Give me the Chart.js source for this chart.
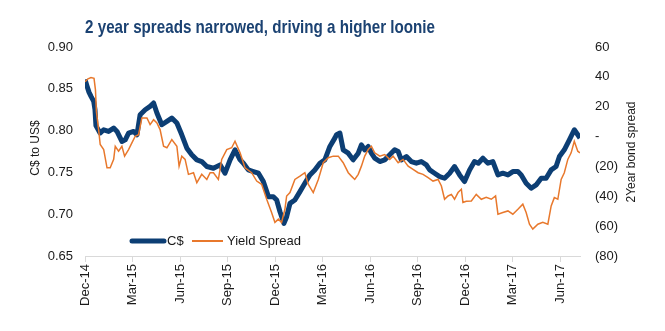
<!DOCTYPE html>
<html>
<head>
<meta charset="utf-8">
<script src="https://cdn.jsdelivr.net/npm/chart.js@4"></script>
<style>
  html, body { margin: 0; padding: 0; background: #fff; }
  #wrap { width: 665px; height: 331px; }
</style>
</head>
<body>
<div id="wrap"><canvas id="loonieChart" width="665" height="331"></canvas></div>
<script>
// x values are months counted from Dec-14 (0 = start of Dec 2014)
const chartTitle = '2 year spreads narrowed, driving a higher loonie';
const seriesNames = ['C$', 'Yield Spread'];
const leftAxisTitle = 'C$ to US$';
const rightAxisTitle = '2Year bond spread';

const tickMonths = [0, 3, 6, 9, 12, 15, 18, 21, 24, 27, 30];
const tickLabels = ['Dec-14', 'Mar-15', 'Jun-15', 'Sep-15', 'Dec-15', 'Mar-16',
                    'Jun-16', 'Sep-16', 'Dec-16', 'Mar-17', 'Jun-17'];

const cadMonths = [0, 0.13, 0.25, 0.38, 0.55, 0.63, 0.69, 0.95, 1.18, 1.49,
  1.81, 2.02, 2.33, 2.54, 2.75, 3.07, 3.28, 3.48, 3.80, 4.11,
  4.33, 4.54, 4.85, 5.17, 5.48, 5.80, 6.11, 6.43, 6.74, 7.06,
  7.37, 7.69, 8.11, 8.53, 8.84, 9.16, 9.47, 9.79, 10.00, 10.31,
  10.63, 10.95, 11.26, 11.58, 11.89, 12.10, 12.31, 12.56, 12.73, 12.94,
  13.25, 13.57, 13.88, 14.20, 14.51, 14.83, 15.14, 15.46, 15.77, 15.88,
  16.09, 16.30, 16.62, 16.93, 17.25, 17.45, 17.66, 17.88, 18.08, 18.29,
  18.61, 18.92, 19.24, 19.55, 19.77, 19.97, 20.29, 20.60, 20.92, 21.23,
  21.55, 21.76, 22.07, 22.39, 22.70, 23.02, 23.33, 23.65, 23.96, 24.28,
  24.59, 24.83, 25.12, 25.44, 25.75, 26.07, 26.38, 26.70, 27.01, 27.33,
  27.54, 27.85, 28.17, 28.48, 28.80, 29.11, 29.43, 29.74, 29.95, 30.26,
  30.58, 30.89, 31.11, 31.25];
const cadValues = [0.861, 0.853, 0.846, 0.841, 0.835, 0.825, 0.806, 0.797, 0.801, 0.799,
  0.803, 0.799, 0.787, 0.789, 0.797, 0.799, 0.795, 0.819, 0.825, 0.829,
  0.833, 0.821, 0.807, 0.811, 0.815, 0.809, 0.795, 0.779, 0.771, 0.765,
  0.763, 0.757, 0.755, 0.759, 0.749, 0.765, 0.777, 0.765, 0.761, 0.753,
  0.751, 0.749, 0.739, 0.721, 0.721, 0.717, 0.703, 0.689, 0.697, 0.713,
  0.717, 0.727, 0.737, 0.747, 0.753, 0.761, 0.765, 0.781, 0.791, 0.795,
  0.797, 0.777, 0.773, 0.765, 0.773, 0.783, 0.777, 0.781, 0.773, 0.767,
  0.763, 0.765, 0.771, 0.777, 0.775, 0.765, 0.769, 0.763, 0.761, 0.763,
  0.759, 0.753, 0.749, 0.745, 0.743, 0.749, 0.757, 0.747, 0.739, 0.753,
  0.763, 0.761, 0.767, 0.761, 0.763, 0.747, 0.749, 0.747, 0.751, 0.751,
  0.747, 0.737, 0.731, 0.735, 0.743, 0.743, 0.753, 0.757, 0.769, 0.777,
  0.789, 0.801, 0.795, 0.791];

const spreadMonths = [0, 0.19, 0.38, 0.57, 0.66, 0.72, 0.86, 0.96, 1.18, 1.39,
  1.59, 1.81, 1.91, 2.12, 2.33, 2.50, 2.75, 2.96, 3.17, 3.38,
  3.59, 3.91, 4.11, 4.33, 4.54, 4.74, 4.96, 5.17, 5.48, 5.80,
  5.94, 6.11, 6.32, 6.53, 6.85, 7.06, 7.37, 7.69, 7.90, 8.11,
  8.42, 8.63, 8.95, 9.26, 9.47, 9.79, 10.10, 10.52, 10.84, 11.15,
  11.47, 11.78, 11.99, 12.21, 12.41, 12.62, 12.73, 12.94, 13.25, 13.57,
  13.88, 14.10, 14.41, 14.73, 15.04, 15.36, 15.67, 15.99, 16.30, 16.62,
  16.82, 17.03, 17.25, 17.45, 17.66, 17.88, 18.08, 18.29, 18.61, 18.92,
  19.24, 19.45, 19.77, 20.08, 20.40, 20.71, 21.03, 21.34, 21.66, 21.97,
  22.29, 22.50, 22.70, 22.92, 23.13, 23.33, 23.55, 23.76, 23.86, 24.07,
  24.39, 24.70, 25.02, 25.33, 25.65, 25.92, 26.07, 26.38, 26.70, 27.01,
  27.33, 27.64, 27.85, 28.06, 28.27, 28.59, 28.90, 29.22, 29.43, 29.63,
  29.85, 30.06, 30.26, 30.48, 30.69, 30.89, 31.11, 31.25];
const spreadValues = [36.7, 38.7, 39.5, 39.0, 31.3, 16.7, 4.7, -5.3, -8.7, -20.9,
  -20.9, -15.3, -6.5, -9.8, -6.5, -13.1, -8.7, -4.2, 0.2, 1.3,
  12.5, 12.5, 8.0, 11.3, 9.1, 4.7, -6.5, -7.5, -2.0, -6.5,
  -19.8, -13.1, -15.3, -25.3, -24.2, -30.9, -25.3, -28.7, -24.2, -24.2,
  -28.7, -15.3, -8.7, -7.5, -3.1, -10.9, -20.9, -24.2, -29.8, -32.0,
  -42.0, -50.9, -57.5, -55.3, -57.5, -48.7, -39.8, -37.5, -28.7, -26.5,
  -24.2, -32.0, -37.5, -28.7, -17.5, -14.2, -13.1, -13.1, -17.5, -24.2,
  -26.5, -28.7, -25.3, -19.8, -13.1, -8.7, -6.5, -10.9, -13.1, -12.0,
  -15.3, -13.1, -17.5, -15.3, -19.8, -22.0, -24.2, -25.3, -27.5, -29.8,
  -28.7, -33.1, -42.0, -39.8, -38.7, -42.0, -37.5, -35.3, -44.2, -43.3,
  -43.1, -38.7, -42.0, -40.7, -42.0, -39.8, -52.0, -50.9, -49.8, -52.0,
  -48.7, -45.3, -50.9, -58.7, -62.0, -58.7, -57.5, -58.7, -46.5, -40.9,
  -42.0, -28.7, -24.2, -15.3, -10.9, -3.1, -9.8, -10.9];

const navy = '#0c3e74';
const orange = '#e8782c';
const textColor = '#1a1a1a';
const baseFont = '"Liberation Sans", Arial, sans-serif';

// title, axis titles and the in-plot legend drawn on top
const overlay = {
    id: 'overlay',
    afterDraw(chart) {
        const ctx = chart.ctx;
        ctx.save();
        // narrow bold title: squeeze Liberation Sans horizontally
        ctx.save();
        ctx.translate(260, 33);
        ctx.scale(0.82, 1);
        ctx.fillStyle = '#1b4272';
        ctx.font = 'bold 18.5px ' + baseFont;
        ctx.textAlign = 'center';
        ctx.textBaseline = 'alphabetic';
        ctx.fillText(chartTitle, 0, 0);
        ctx.restore();

        ctx.fillStyle = textColor;
        ctx.font = '12px ' + baseFont;
        ctx.textAlign = 'center';
        ctx.textBaseline = 'middle';
        ctx.save();
        ctx.translate(36, 148);
        ctx.rotate(-Math.PI / 2);
        ctx.fillText(leftAxisTitle, 0, 0);
        ctx.restore();
        ctx.save();
        ctx.translate(632, 152);
        ctx.rotate(-Math.PI / 2);
        ctx.fillText(rightAxisTitle, 0, 0);
        ctx.restore();

        // legend
        ctx.lineCap = 'round';
        ctx.strokeStyle = navy;
        ctx.lineWidth = 5;
        ctx.beginPath(); ctx.moveTo(132, 241); ctx.lineTo(164, 241); ctx.stroke();
        ctx.strokeStyle = orange;
        ctx.lineWidth = 2;
        ctx.lineCap = 'butt';
        ctx.beginPath(); ctx.moveTo(192, 241); ctx.lineTo(223, 241); ctx.stroke();
        ctx.font = '13px ' + baseFont;
        ctx.textAlign = 'left';
        ctx.fillText(seriesNames[0], 167, 241);
        ctx.fillText(seriesNames[1], 227, 241);
        ctx.restore();
    }
};

const ctx = document.getElementById('loonieChart').getContext('2d');

new Chart(ctx, {
    type: 'line',
    data: {
        datasets: [{
            label: seriesNames[0],
            data: cadMonths.map((m, i) => ({ x: m, y: cadValues[i] })),
            yAxisID: 'y',
            borderColor: navy,
            borderWidth: 5,
            borderJoinStyle: 'round',
            pointRadius: 0,
            tension: 0,
            order: 2
        }, {
            label: seriesNames[1],
            data: spreadMonths.map((m, i) => ({ x: m, y: spreadValues[i] })),
            yAxisID: 'y1',
            borderColor: orange,
            borderWidth: 1.5,
            pointRadius: 0,
            tension: 0,
            order: 1
        }]
    },
    options: {
        responsive: false,
        animation: false,
        devicePixelRatio: 1,
        layout: { padding: { top: 47, left: 0, right: 0, bottom: 0 } },
        plugins: {
            legend: { display: false },
            title: { display: false },
            tooltip: { enabled: false }
        },
        scales: {
            x: {
                type: 'linear',
                min: 0,
                max: 31.25,
                afterBuildTicks: s => { s.ticks = tickMonths.map(v => ({ value: v })); },
                afterFit: s => { s.height = 75; },
                ticks: {
                    autoSkip: false,
                    minRotation: 90,
                    maxRotation: 90,
                    padding: 2,
                    color: textColor,
                    font: { family: baseFont, size: 13 },
                    callback: (v, i) => tickLabels[i]
                },
                grid: { display: true, drawOnChartArea: false, tickLength: 6, color: '#d9d9d9' },
                border: { color: '#d9d9d9' }
            },
            y: {
                position: 'left',
                min: 0.65,
                max: 0.90,
                afterFit: s => { s.width = 85; },
                ticks: {
                    stepSize: 0.05,
                    padding: 12,
                    color: textColor,
                    font: { family: baseFont, size: 13 },
                    callback: v => v.toFixed(2)
                },
                grid: { display: false, drawTicks: false },
                border: { display: false }
            },
            y1: {
                position: 'right',
                min: -80,
                max: 60,
                afterFit: s => { s.width = 85; },
                ticks: {
                    stepSize: 20,
                    padding: 15,
                    color: textColor,
                    font: { family: baseFont, size: 13 },
                    callback: v => v === 0 ? '-' : (v < 0 ? '(' + Math.abs(v) + ')' : String(v))
                },
                grid: { display: false, drawTicks: false },
                border: { display: false }
            }
        }
    },
    plugins: [overlay]
});
</script>
</body>
</html>
